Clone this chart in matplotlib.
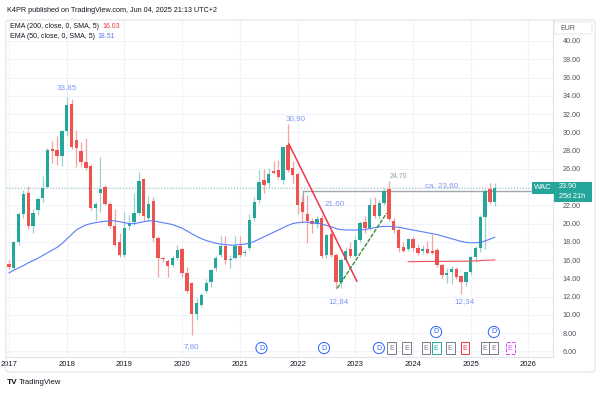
import numpy as np
import matplotlib
matplotlib.use("Agg")
import matplotlib.pyplot as plt
from matplotlib.patches import Rectangle, FancyBboxPatch
from matplotlib.transforms import blended_transform_factory

plt.rcParams["font.family"] = ["Liberation Sans", "DejaVu Sans"]

# monthly candles, Jan 2017 .. Jun 2025
opens = [15.6, 15.1, 18.0, 21.1, 23.3, 19.7, 21.5, 22.8, 24.0, 28.1, 28.1, 27.4,
         30.1, 33.1, 29.2, 27.9, 26.8, 26.3, 21.7, 23.4, 24.0, 22.2, 19.7, 18.0,
         16.55, 19.75, 20.2, 21.2, 24.9, 20.65, 22.5, 18.4, 16.2, 15.95, 15.45, 16.2,
         17.2, 14.55, 13.5, 10.1, 11.1, 12.6, 13.65, 15.1, 16.55, 17.5, 16.0, 16.2,
         17.55, 16.75, 17.3, 20.6, 22.6, 24.8, 24.4, 25.75, 25.9, 24.8, 28.6, 26.05,
         25.4, 22.4, 21.0, 20.3, 19.95, 20.6, 16.55, 18.9, 16.55, 13.6, 16.0, 17.2,
         16.4, 18.2, 20.2, 19.5, 22.05, 20.8, 22.3, 23.75, 20.3, 19.3, 17.4, 17.2,
         18.3, 17.3, 17.0, 17.2, 17.0, 17.1, 15.45, 14.35, 14.7, 15.0, 14.25, 13.55,
         14.7, 16.3, 17.3, 20.75, 23.8, 22.4]
highs = [16.0, 18.1, 21.3, 23.7, 24.15, 21.6, 22.9, 25.2, 28.3, 29.0, 29.6, 30.3,
         33.85, 33.6, 30.3, 28.9, 29.4, 26.5, 22.4, 27.3, 24.2, 22.4, 21.6, 19.0,
         21.3, 20.9, 23.4, 25.6, 25.0, 23.0, 22.9, 18.6, 16.3, 16.1, 16.5, 17.65,
         17.3, 15.2, 13.6, 11.9, 12.4, 13.9, 15.0, 16.5, 18.6, 18.6, 16.6, 18.6,
         18.6, 17.2, 21.0, 22.9, 25.9, 26.0, 26.1, 26.9, 27.0, 28.4, 30.9, 26.9,
         25.6, 23.1, 23.1, 20.6, 20.8, 20.9, 18.9, 19.2, 16.8, 16.2, 17.4, 18.0,
         18.6, 20.3, 20.8, 22.85, 22.9, 22.6, 23.9, 24.7, 20.6, 19.5, 18.0, 18.4,
         18.5, 17.8, 17.7, 18.1, 18.9, 17.3, 15.6, 15.1, 15.4, 15.3, 14.4, 14.8,
         16.5, 17.5, 20.9, 23.8, 24.4, 24.5]
lows = [15.0, 14.9, 17.7, 20.6, 19.4, 19.0, 20.9, 22.4, 23.9, 26.6, 26.4, 26.3,
        29.6, 28.2, 26.2, 26.3, 25.9, 21.5, 20.4, 21.3, 22.0, 19.5, 17.5, 16.3,
        16.3, 19.3, 19.9, 20.9, 20.3, 20.4, 18.0, 14.2, 15.8, 14.2, 15.2, 16.0,
        14.2, 12.4, 7.8, 9.4, 10.9, 12.4, 13.1, 14.8, 16.3, 15.6, 15.1, 16.1,
        16.3, 16.4, 17.1, 20.3, 22.3, 23.4, 23.8, 25.4, 24.9, 24.3, 25.7, 24.4,
        21.1, 20.2, 17.85, 19.0, 19.5, 16.2, 16.2, 16.3, 12.84, 12.9, 15.8, 16.2,
        16.3, 18.0, 19.0, 19.3, 20.6, 20.5, 22.0, 20.3, 19.0, 16.9, 16.9, 17.0,
        17.0, 16.6, 16.7, 16.7, 16.7, 15.3, 14.0, 13.45, 13.4, 13.9, 12.34, 13.2,
        14.4, 15.8, 16.9, 17.2, 22.2, 21.9]
closes = [15.2, 18.0, 21.05, 23.2, 19.7, 21.2, 22.7, 23.9, 28.05, 28.0, 27.4, 30.1,
          33.0, 28.4, 28.25, 26.8, 26.1, 21.75, 22.1, 23.75, 22.15, 19.7, 17.65, 16.55,
          19.5, 20.1, 21.2, 24.7, 20.8, 22.15, 18.4, 16.2, 16.1, 15.4, 16.2, 17.1,
          14.55, 12.65, 10.1, 11.3, 12.2, 13.5, 14.9, 16.2, 17.5, 16.0, 16.1, 17.55,
          16.55, 16.9, 20.4, 22.4, 24.6, 24.2, 25.4, 25.55, 25.15, 28.35, 25.9, 25.3,
          22.05, 21.3, 20.3, 19.95, 20.45, 16.45, 18.75, 16.55, 13.55, 16.0, 16.95, 16.4,
          18.2, 20.1, 19.5, 22.05, 20.8, 22.3, 23.6, 20.45, 19.3, 17.3, 17.0, 18.3,
          17.3, 16.75, 17.2, 16.8, 16.8, 15.45, 14.35, 14.55, 15.0, 14.1, 13.55, 14.7,
          16.3, 17.3, 20.75, 23.6, 22.4, 23.9]

ema50 = [14.6, 14.9, 15.15, 15.4, 15.7, 15.95, 16.2, 16.5, 16.8, 17.1, 17.4, 17.8,
         18.3, 18.8, 19.3, 19.6, 19.85, 20.0, 20.1, 20.2, 20.25, 20.3, 20.3, 20.2,
         20.1, 20.0, 20.0, 20.1, 20.2, 20.3, 20.3, 20.2, 20.1, 20.0, 19.9, 19.7,
         19.5, 19.2, 18.9, 18.6, 18.35, 18.15, 18.0, 17.85, 17.75, 17.7, 17.65, 17.65,
         17.7, 17.75, 17.85, 18.05, 18.3, 18.55, 18.8, 19.05, 19.3, 19.55, 19.8, 20.0,
         20.1, 20.15, 20.15, 20.1, 20.05, 19.95, 19.8, 19.65, 19.45, 19.35, 19.3, 19.3,
         19.3, 19.3, 19.35, 19.45, 19.55, 19.65, 19.7, 19.7, 19.65, 19.6, 19.5, 19.4,
         19.3, 19.2, 19.1, 19.0, 18.9, 18.8, 18.65, 18.5, 18.35, 18.2, 18.05, 17.95,
         17.9, 17.9, 17.95, 18.1, 18.3, 18.51]
ema200_start = 83  # Dec 2023
ema200 = [15.82, 15.83, 15.84, 15.85, 15.85, 15.86, 15.86, 15.86, 15.86, 15.87,
          15.87, 15.88, 15.88, 15.9, 15.92, 15.95, 15.98, 16.0, 16.03]

years = ["2017", "2018", "2019", "2020", "2021", "2022", "2023", "2024", "2025", "2026"]
price_ticks = [6, 8, 10, 12, 14, 16, 18, 20, 22, 24, 26, 28, 30, 32, 34, 36, 38, 40]

# (month index, price, text)
labels = [(12, 34.85, "33,85"), (59.5, 31.5, "30,90"), (38, 6.5, "7,80"),
          (67.8, 22.15, "21,60"), (68.5, 11.45, "12,84"), (94.8, 11.5, "12,34"),
          (90, 24.15, "ca. 23,60")]
div_events = [(52.5, 0), (65.5, 0), (76.9, 0), (88.8, 1), (100.8, 1)]
earn_events = [(79.5, "g"), (82.7, "g"), (86.7, "g"), (88.8, "t"), (91.7, "g"),
               (94.8, "r"), (99.0, "g"), (100.8, "g"), (104.2, "m")]

UP = "#26a69a"
DOWN = "#ef5350"
LBL = "#7f95f5"

W, H = 600, 393
fig = plt.figure(figsize=(6, 3.93), dpi=100)
ax = fig.add_axes([6 / W, 1 - 357 / H, (553 - 6) / W, (357 - 20) / H])
ax.set_xlim(-0.62, 113.1)
ax.set_ylim(5.39, 42.3)

x = np.arange(len(opens))
o = np.array(opens)
c = np.array(closes)
up = c >= o
cols = np.where(up, UP, DOWN)
wick_cols = np.where(up, "#9bd3cc", "#f5a3a1")

ax.vlines(x, lows, highs, colors=wick_cols, lw=0.9, zorder=3)
body_bottom = np.minimum(o, c)
body_h = np.maximum(np.abs(c - o), 0.12)
ax.bar(x, body_h, bottom=body_bottom, width=0.7, color=cols, zorder=4, linewidth=0)

ax.plot(x, ema50, color="#5b7cfa", lw=0.8, zorder=5)
ax.plot(np.arange(ema200_start, ema200_start + len(ema200)), ema200,
        color="#f7525f", lw=0.8, zorder=5)

# drawings
ax.plot([58.2, 72.3], [28.72, 13.71], color="#f23645", lw=1.1, zorder=6)
ax.plot([68.25, 78.5], [12.91, 21.13], color="#388e3c", lw=1.0, zorder=6,
        linestyle=(0, (3, 1)))
ax.plot([61.06, 113.1], [23.6, 23.6], color="#a3a6af", lw=1.0, zorder=2)
ax.plot([61.06, 61.06], [23.6, 21.5], color="#a3a6af", lw=1.0, zorder=2)
ax.axhline(23.9, color="#7fb8b2", lw=0.7, linestyle=(0, (1, 2)), zorder=2)

for lx, ly, t in labels:
    ax.text(lx, ly, t, color=LBL, fontsize=5.8, ha="center", va="center", zorder=7)
ax.text(80.9, 25.3, "24,70", color="#9598a1", fontsize=5, ha="center", va="center")

# events row
for ex, row in div_events:
    ey = 6.37 if row == 0 else 8.13
    ax.text(ex, ey, "D", color="#2962ff", fontsize=5, ha="center", va="center", zorder=8,
            bbox=dict(boxstyle="circle,pad=0.3", fc="white", ec="#2962ff", lw=0.7))
ecols = {"g": "#787b86", "t": "#26a69a", "r": "#f23645", "m": "#e040fb"}
for ex, k in earn_events:
    ax.text(ex, 6.37, "E", color=ecols[k], fontsize=5, ha="center", va="center", zorder=8,
            bbox=dict(boxstyle="square,pad=0.3", fc="white", ec=ecols[k], lw=0.7,
                      ls="--" if k == "m" else "-"))

# axes styling
ax.set_xticks(np.arange(len(years)) * 12)
ax.set_xticklabels(years, fontsize=5.5, color="#131722")
ax.yaxis.tick_right()
ax.set_yticks(price_ticks)
# the 24.00 label sits under the last-price box, as in the reference
ax.set_yticklabels(["" if v == 24 else "%.2f" % v for v in price_ticks],
                   fontsize=5.2, color="#50535e")
ax.tick_params(axis="both", length=0)
ax.tick_params(axis="x", pad=3)
ax.tick_params(axis="y", pad=7)
ax.grid(True, color="#f0f3fa", lw=0.8, zorder=0)
ax.set_axisbelow(True)
for s in ["top", "left"]:
    ax.spines[s].set_visible(False)
ax.spines["right"].set_color("#e0e3eb")
ax.spines["bottom"].set_color("#e0e3eb")
ax.spines["right"].set_linewidth(0.8)
ax.spines["bottom"].set_linewidth(0.8)

# price labels at the right
trans = blended_transform_factory(ax.transAxes, ax.transData)
ax.text(0.998, 23.9, "WAC", transform=trans, ha="right", va="center", color="white",
        fontsize=5.5, zorder=9,
        bbox=dict(boxstyle="square,pad=0.3", fc=UP, ec="none"))
fig.patches.append(Rectangle((554 / W, 1 - 202 / H), 38 / W, 20 / H,
                             transform=fig.transFigure, fc=UP, ec="none"))
fig.text(559 / W, 1 - 187 / H, "23.90", color="white", fontsize=5.2, va="center")
fig.text(559 / W, 1 - 196 / H, "25d 21h", color="white", fontsize=5.2, va="center")

# frame and header
fig.patches.append(FancyBboxPatch((6 / W, 1 - 372 / H), 589 / W, 352 / H,
                                  boxstyle="round,pad=0,rounding_size=0.006",
                                  transform=fig.transFigure, fc="none",
                                  ec="#e0e3eb", lw=0.8))
fig.patches.append(FancyBboxPatch((554 / W, 1 - 34 / H), 38 / W, 12 / H,
                                  boxstyle="round,pad=0,rounding_size=0.004",
                                  transform=fig.transFigure, fc="white",
                                  ec="#e0e3eb", lw=0.6))
fig.text(560 / W, 1 - 28 / H, "EUR", fontsize=5, color="#50535e", va="center")
fig.text(7 / W, 1 - 10 / H, "K4PR published on TradingView.com, Jun 04, 2025 21:13 UTC+2",
         fontsize=5.2, color="#131722", va="center")
fig.text(10 / W, 1 - 26 / H, "EMA (200, close, 0, SMA, 5) ", fontsize=5,
         color="#131722", va="center")
fig.text(102 / W, 1 - 26 / H, "16.03", fontsize=5, color="#f23645", va="center")
fig.text(10 / W, 1 - 36 / H, "EMA (50, close, 0, SMA, 5) ", fontsize=5,
         color="#131722", va="center")
fig.text(97 / W, 1 - 36 / H, "18.51", fontsize=5, color="#5b7cfa", va="center")
fig.text(7 / W, 1 - 382 / H, "TV", fontsize=6, fontweight="bold", color="#131722",
         va="center")
fig.text(19 / W, 1 - 382 / H, "TradingView", fontsize=5.5, color="#131722", va="center")

fig.savefig("out.png", dpi=100, facecolor="white")
